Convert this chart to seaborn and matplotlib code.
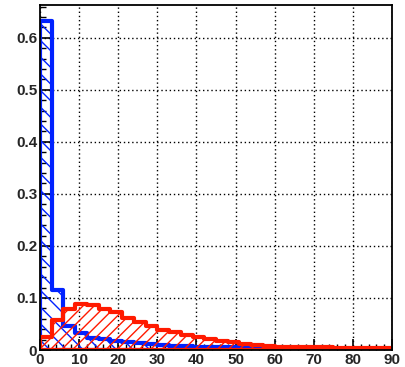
import numpy as np
import pandas as pd
import matplotlib
matplotlib.use("Agg")
import matplotlib.pyplot as plt
import seaborn as sns
from matplotlib.ticker import MultipleLocator

# Bin edges (width 3 from 0 to 90)
bin_edges = list(range(0, 93, 3))
bin_centers = [e + 1.5 for e in bin_edges[:-1]]

blue_values = [0.632, 0.115, 0.047, 0.033, 0.024, 0.022, 0.018, 0.016, 0.014, 0.011,
               0.009, 0.008, 0.007, 0.006, 0.006, 0.005, 0.005, 0.004, 0.004, 0.003,
               0.003, 0.003, 0.002, 0.002, 0.002, 0.001, 0.0, 0.0, 0.0, 0.0]
red_values = [0.025, 0.058, 0.078, 0.089, 0.087, 0.079, 0.073, 0.061, 0.053, 0.046,
              0.039, 0.034, 0.029, 0.025, 0.021, 0.018, 0.015, 0.012, 0.010, 0.008,
              0.006, 0.005, 0.005, 0.005, 0.005, 0.004, 0.004, 0.004, 0.004, 0.004]

x_ticks = [0, 10, 20, 30, 40, 50, 60, 70, 80, 90]
y_ticks = [0, 0.1, 0.2, 0.3, 0.4, 0.5, 0.6]
y_tick_labels = ["0", "0.1", "0.2", "0.3", "0.4", "0.5", "0.6"]

df = pd.DataFrame({"x": bin_centers, "blue": blue_values, "red": red_values})

sns.set_style("white")
plt.rcParams['font.family'] = ['Liberation Sans', 'DejaVu Sans']
plt.rcParams['hatch.linewidth'] = 1.0

fig = plt.figure(figsize=(4.05, 3.67), dpi=100)
ax = fig.add_axes([40 / 405, 1 - 350 / 367, (392 - 40) / 405, (350 - 5) / 367])

ax.set_axisbelow(True)
ax.grid(True, which="major", linestyle=(0, (1, 2)), color="black", linewidth=1.0)

sns.histplot(data=df, x="x", weights="blue", bins=bin_edges, element="step",
             fill=True, color="#0022ff", facecolor="none", edgecolor="#0022ff",
             hatch="\\\\", linewidth=3, alpha=1, ax=ax)
sns.histplot(data=df, x="x", weights="red", bins=bin_edges, element="step",
             fill=True, color="#ff1a00", facecolor="none", edgecolor="#ff1a00",
             hatch="///", linewidth=3, alpha=1, ax=ax)

ax.set_xlim(0, 90)
ax.set_ylim(0, 0.663)
ax.set_xlabel("")
ax.set_ylabel("")
ax.set_xticks(x_ticks)
ax.set_xticklabels([str(t) for t in x_ticks])
ax.set_yticks(y_ticks)
ax.set_yticklabels(y_tick_labels)
ax.xaxis.set_minor_locator(MultipleLocator(2))
ax.yaxis.set_minor_locator(MultipleLocator(0.02))
ax.tick_params(axis="both", which="major", direction="in", length=8, width=1.2,
               color="black", labelsize=11, pad=2, top=False, right=False,
               bottom=True, left=True)
ax.tick_params(axis="both", which="minor", direction="in", length=4, width=1.0,
               color="black", top=False, right=False, bottom=True, left=True)
for lab in ax.get_xticklabels() + ax.get_yticklabels():
    lab.set_fontweight("bold")
for sp in ax.spines.values():
    sp.set_visible(True)
    sp.set_color("black")
    sp.set_linewidth(1.3)

fig.savefig("out.png", dpi=100)
